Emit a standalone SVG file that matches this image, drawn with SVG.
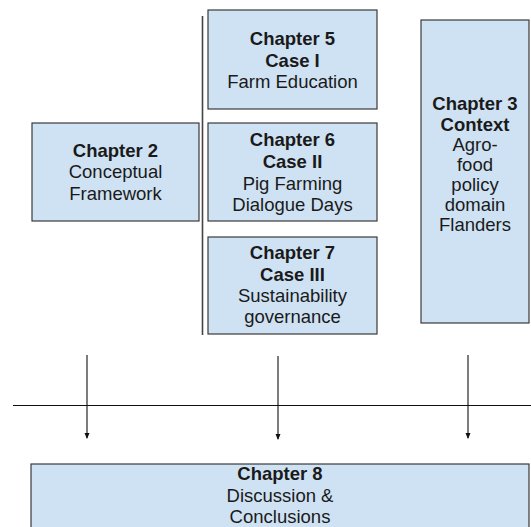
<svg xmlns="http://www.w3.org/2000/svg" width="531" height="527" viewBox="0 0 531 527">
<style>
.box{fill:#cfe2f3;stroke:#3a3a3a;stroke-width:1.2}
text{font-family:"Liberation Sans",Arial,sans-serif;font-size:18.5px;fill:#1a1a1a;text-anchor:middle}
.b{font-weight:bold}
.ln{stroke:#111;stroke-width:1.1;fill:none}
</style>
<defs>
<marker id="ah" markerWidth="6" markerHeight="8" refX="5" refY="4" orient="auto" markerUnits="userSpaceOnUse">
<path d="M0,1.5 L6,4 L0,6.5 Z" fill="#111"/>
</marker>
</defs>
<rect width="531" height="527" fill="#fff"/>
<g id="connectors">
<line class="ln" x1="202.5" y1="16" x2="202.5" y2="335" style="stroke:#444;stroke-width:1.6"/>
<line class="ln" x1="13" y1="405.5" x2="531" y2="405.5"/>
<line class="ln" x1="87" y1="355" x2="87" y2="438" marker-end="url(#ah)"/>
<line class="ln" x1="278" y1="356" x2="278" y2="439" marker-end="url(#ah)"/>
<line class="ln" x1="468" y1="355" x2="468" y2="438" marker-end="url(#ah)"/>
</g>
<g id="ch2">
<rect class="box" x="32" y="123" width="167" height="98"/>
<text x="115.5" y="157" class="b">Chapter 2</text>
<text x="115.5" y="178">Conceptual</text>
<text x="115.5" y="199.5">Framework</text>
</g>
<g id="ch5">
<rect class="box" x="208" y="10" width="169" height="99"/>
<text x="292.5" y="45" class="b">Chapter 5</text>
<text x="292.5" y="66.5" class="b">Case I</text>
<text x="292.5" y="87.5">Farm Education</text>
</g>
<g id="ch6">
<rect class="box" x="208" y="123" width="169" height="98"/>
<text x="292.5" y="146" class="b">Chapter 6</text>
<text x="292.5" y="168" class="b">Case II</text>
<text x="292.5" y="189.5">Pig Farming</text>
<text x="292.5" y="211">Dialogue Days</text>
</g>
<g id="ch7">
<rect class="box" x="208" y="237" width="169" height="97"/>
<text x="292.5" y="259" class="b">Chapter 7</text>
<text x="292.5" y="280.5" class="b">Case III</text>
<text x="292.5" y="302">Sustainability</text>
<text x="292.5" y="323">governance</text>
</g>
<g id="ch3">
<rect class="box" x="421" y="20" width="108" height="303"/>
<text x="475" y="110" class="b">Chapter 3</text>
<text x="475" y="130.5" class="b">Context</text>
<text x="475" y="150.5">Agro-</text>
<text x="475" y="170.5">food</text>
<text x="475" y="190.5">policy</text>
<text x="475" y="210.5">domain</text>
<text x="475" y="230.5">Flanders</text>
</g>
<g id="ch8">
<rect class="box" x="31" y="464" width="498" height="80"/>
<text x="280" y="480" class="b">Chapter 8</text>
<text x="280" y="501.5">Discussion &amp;</text>
<text x="280" y="522.5">Conclusions</text>
</g>
</svg>
